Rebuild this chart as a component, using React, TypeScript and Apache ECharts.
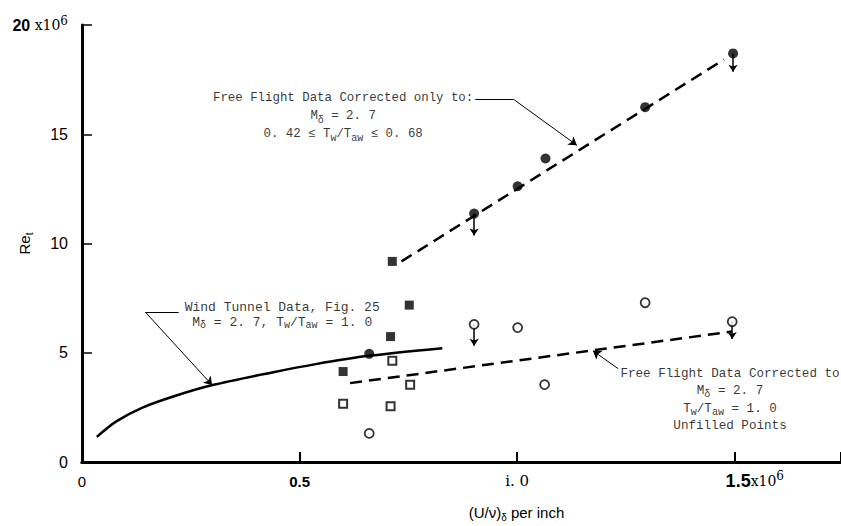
import React, { useEffect, useRef } from 'react';
import * as echarts from 'echarts';

// ---- data (x in 10^6 per inch, y in 10^6) ----
const filledCircles: number[][] = [[0.66, 4.95], [0.901, 11.37], [1.001, 12.62], [1.065, 13.89], [1.294, 16.24], [1.496, 18.7]];
const filledSquares: number[][] = [[0.6, 4.14], [0.709, 5.74], [0.713, 9.18], [0.752, 7.18]];
const openCircles: number[][] = [[0.66, 1.31], [0.901, 6.3], [1.001, 6.15], [1.063, 3.54], [1.294, 7.29], [1.494, 6.42]];
const openSquares: number[][] = [[0.6, 2.67], [0.709, 2.55], [0.713, 4.63], [0.754, 3.54]];
const windTunnelCurve: number[][] = [[0.034, 1.15], [0.078, 1.85], [0.139, 2.49], [0.215, 3.03], [0.3, 3.52], [0.437, 4.1], [0.537, 4.48], [0.659, 4.86], [0.828, 5.21]];
const upperFit: number[][] = [[0.734, 9.18], [1.475, 18.42]];
const lowerFit: number[][] = [[0.616, 3.61], [1.494, 5.97]];
// [x, yFrom, yTo]
const downArrows: number[][] = [[0.901, 11.37, 10.37], [1.496, 18.7, 17.86], [0.901, 6.3, 5.32], [1.494, 6.42, 5.63]];
const leaderPlain: number[][][] = [[[0.9036, 16.6], [0.9915, 16.6]], [[0.222, 6.85], [0.146, 6.85]]];
const leaderArrow: number[][][] = [[[0.9915, 16.6], [1.137, 14.5]], [[0.146, 6.85], [0.299, 3.52]], [[1.232, 4.27], [1.174, 5.09]]];
const annotationPos: number[][] = [[0.6, 15.83], [0.46, 6.72], [1.489, 2.84]];
const annotationText: string[] = [
  '{t|Free Flight Data Corrected only to:}\n{t|M}{s|δ}{t| = 2. 7}\n{t|0. 42 ≤ T}{s|w}{t|/T}{s|aw}{t| ≤ 0. 68}',
  '{w|Wind Tunnel Data, Fig. 25}\n{w|M}{ws|δ}{w| = 2. 7, T}{ws|w}{w|/T}{ws|aw}{w| = 1. 0}',
  '{c|Free Flight Data Corrected to}\n{c|M}{s|δ}{c| = 2. 7}\n{c|T}{s|w}{c|/T}{s|aw}{c| = 1. 0}\n{c|Unfilled Points}',
];
const xTicks: number[] = [0, 0.5, 1.0, 1.5];
const xTickLabels: string[] = ['{z|0}', '{b|0.5}', '{s|i. 0}', '{p|}{B|1.5}{x|x10}{sup|6}'];
const yTicks: number[] = [0, 5, 10, 15, 20];
const yTickLabels: string[] = ['{n|0}', '{n|5}', '{n|10}', '{n|15}', '{b|20}{x| x10}{sup|6}'];

const X_MAX = 1.744;
const SERIF = '"DejaVu Serif", "Liberation Serif", serif';
const MONO = '"Liberation Mono", "DejaVu Sans Mono", monospace';
const SANS = '"Liberation Sans", Arial, sans-serif';

export default function App() {
  const ref = useRef<HTMLDivElement>(null);
  useEffect(() => {
    const chart = echarts.init(ref.current!, null, { renderer: 'svg' });
    const annRich = {
      t: { fontFamily: MONO, fontSize: 12.4, color: '#000', lineHeight: 18 },
      c: { fontFamily: MONO, fontSize: 12.6, color: '#000', lineHeight: 17.5 },
      s: { fontFamily: MONO, fontSize: 10, color: '#000', lineHeight: 9, verticalAlign: 'bottom' },
      w: { fontFamily: MONO, fontSize: 13, color: '#000', lineHeight: 15 },
      ws: { fontFamily: MONO, fontSize: 10, color: '#000', lineHeight: 7, verticalAlign: 'bottom' },
    };
    chart.setOption({
      animation: false,
      backgroundColor: '#fff',
      grid: { left: 82, right: 0, top: 25, bottom: 64, containLabel: false, outerBoundsMode: 'none' },
      xAxis: [
        {
          type: 'value', min: 0, max: X_MAX, interval: 0.5,
          name: '{a|(U/ν)}{s|δ}{a| per inch}', nameLocation: 'middle', nameGap: 40, nameMoveOverlap: false,
          nameTextStyle: {
            padding: [0, 0, 0, 110],
            rich: {
              a: { fontFamily: SANS, fontSize: 15, color: '#000', lineHeight: 20 },
              s: { fontFamily: SANS, fontSize: 10, color: '#000', lineHeight: 10, verticalAlign: 'bottom' },
            },
          },
          axisLine: { show: true, onZero: false, lineStyle: { color: '#000', width: 3 } },
          axisTick: { show: true, inside: true, length: 10, lineStyle: { color: '#000', width: 2 } },
          splitLine: { show: false },
          axisLabel: {
            margin: 8,
            formatter: (v: number) => {
              const i = xTicks.findIndex((t) => Math.abs(t - v) < 1e-6);
              return i >= 0 ? xTickLabels[i] : '';
            },
            rich: {
              z: { fontFamily: SANS, fontSize: 15, color: '#000', lineHeight: 22 },
              b: { fontFamily: SANS, fontSize: 15, fontWeight: 'bold', color: '#000', lineHeight: 22 },
              s: { fontFamily: SERIF, fontSize: 15, color: '#000', lineHeight: 22 },
              p: { width: 40, lineHeight: 22 },
              B: { fontFamily: SANS, fontSize: 18, fontWeight: 'bold', color: '#000', lineHeight: 22 },
              x: { fontFamily: SERIF, fontSize: 14, color: '#000', lineHeight: 22 },
              sup: { fontFamily: SERIF, fontSize: 12, color: '#000', lineHeight: 12, verticalAlign: 'top' },
            },
          },
        },
        {
          type: 'value', min: 0, max: X_MAX, position: 'top',
          axisLine: { show: true, lineStyle: { color: '#000', width: 3 } },
          axisTick: { show: false }, axisLabel: { show: false }, splitLine: { show: false },
        },
      ],
      yAxis: {
        type: 'value', min: 0, max: 20, interval: 5,
        name: '{a|Re}{s|t}', nameLocation: 'middle', nameGap: 48, nameRotate: 90, nameMoveOverlap: false,
        nameTextStyle: {
          rich: {
            a: { fontFamily: SANS, fontSize: 15, color: '#000', lineHeight: 20 },
            s: { fontFamily: SANS, fontSize: 10, color: '#000', lineHeight: 10, verticalAlign: 'bottom' },
          },
        },
        axisLine: { show: true, lineStyle: { color: '#000', width: 3 } },
        axisTick: { show: true, inside: true, length: 10, lineStyle: { color: '#000', width: 1.5 } },
        splitLine: { show: false },
        axisLabel: {
          margin: 14,
          formatter: (v: number) => {
            const i = yTicks.findIndex((t) => Math.abs(t - v) < 1e-6);
            return i >= 0 ? yTickLabels[i] : '';
          },
          rich: {
            n: { fontFamily: SANS, fontSize: 16, color: '#000', lineHeight: 20 },
            b: { fontFamily: SANS, fontSize: 16, fontWeight: 'bold', color: '#000', lineHeight: 20 },
            x: { fontFamily: SERIF, fontSize: 14, color: '#000', lineHeight: 20 },
            sup: { fontFamily: SERIF, fontSize: 12, color: '#000', lineHeight: 12, verticalAlign: 'top' },
          },
        },
      },
      series: [
        {
          type: 'line', data: windTunnelCurve, smooth: 0.3, showSymbol: false, symbol: 'none',
          lineStyle: { color: '#000', width: 2.5 }, z: 2,
        },
        {
          type: 'line', data: upperFit, showSymbol: false, symbol: 'none',
          lineStyle: { color: '#000', width: 2.5, type: [12, 7] }, z: 2,
        },
        {
          type: 'line', data: lowerFit, showSymbol: false, symbol: 'none',
          lineStyle: { color: '#000', width: 2.5, type: [12, 7] }, z: 2,
        },
        {
          type: 'lines', coordinateSystem: 'cartesian2d',
          data: downArrows.map((a) => ({ coords: [[a[0], a[1]], [a[0], a[2]]] })),
          symbol: ['none', 'arrow'], symbolSize: 7,
          lineStyle: { color: '#000', width: 1.5, opacity: 1 }, z: 3,
        },
        {
          type: 'lines', coordinateSystem: 'cartesian2d',
          data: leaderPlain.map((c) => ({ coords: c })),
          symbol: 'none',
          lineStyle: { color: '#000', width: 1, opacity: 1 }, z: 3,
        },
        {
          type: 'lines', coordinateSystem: 'cartesian2d',
          data: leaderArrow.map((c) => ({ coords: c })),
          symbol: ['none', 'arrow'], symbolSize: 8,
          lineStyle: { color: '#000', width: 1, opacity: 1 }, z: 3,
        },
        {
          type: 'scatter', data: filledCircles, symbol: 'circle', symbolSize: 10,
          itemStyle: { color: '#000' }, z: 5,
        },
        {
          type: 'scatter', data: filledSquares, symbol: 'rect', symbolSize: 9,
          itemStyle: { color: '#000' }, z: 5,
        },
        {
          type: 'scatter', data: openCircles, symbol: 'circle', symbolSize: 9,
          itemStyle: { color: '#fff', borderColor: '#000', borderWidth: 1.8 }, z: 5,
        },
        {
          type: 'scatter', data: openSquares, symbol: 'rect', symbolSize: 8,
          itemStyle: { color: '#fff', borderColor: '#000', borderWidth: 2 }, z: 5,
        },
        {
          type: 'scatter', symbolSize: 0, silent: true, z: 6,
          data: annotationPos.map((p, i) => ({ value: p, label: { formatter: annotationText[i] } })),
          label: { show: true, position: 'inside', align: 'center', color: '#000', rich: annRich },
        },
      ],
    });
    return () => chart.dispose();
  }, []);
  return <div ref={ref} style={{ position: 'fixed', left: 0, top: 0, width: 841, height: 526 }} />;
}
